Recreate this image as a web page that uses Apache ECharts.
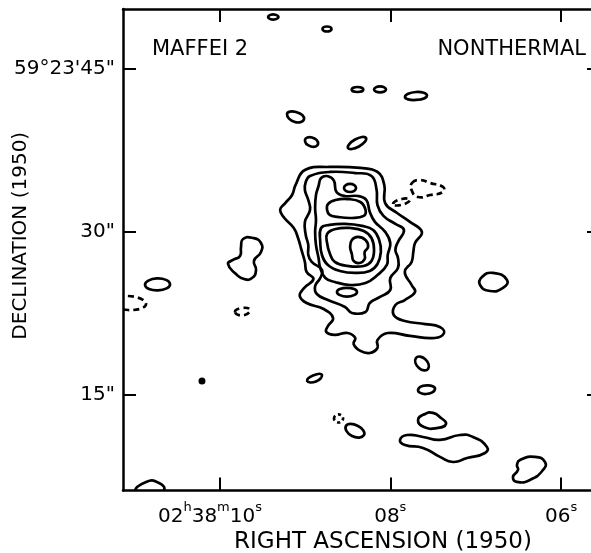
<!DOCTYPE html>
<html>
<head>
<meta charset="utf-8">
<script src="https://cdn.jsdelivr.net/npm/echarts@6/dist/echarts.min.js"></script>
<style>
  html, body { margin: 0; padding: 0; background: #fff; }
  #chart { width: 591px; height: 553px; }
</style>
</head>
<body>
<div id="chart"></div>
<script>
// Positions are [RA seconds past 02h38m, Dec arcsec past 59°23'] (1950.0)
const raTicks = [10, 8, 6];
const decTicks = [15, 30, 45];
const raRange = [5.544, 11.13];
const decRange = [6.21, 50.47];

// Nested contours of the main nonthermal emission, lowest level first
const coreContours = [
  [[9.00,35.67],[8.71,35.95],[8.35,35.86],[8.15,35.49],[8.07,34.29],[8.06,32.63],[7.92,31.72],[7.77,30.90],[7.63,29.98],[7.71,28.96],[7.73,28.14],[7.75,27.22],[7.83,26.30],[7.75,25.10],[7.71,24.46],[7.83,23.72],[7.94,23.26],[7.96,22.34],[7.83,21.79],[7.59,21.51],[7.42,21.24],[7.37,20.69],[7.48,20.23],[7.77,20.42],[8.03,20.69],[8.15,20.05],[8.15,19.31],[8.24,18.85],[8.35,19.04],[8.43,19.68],[8.41,20.23],[8.50,20.69],[8.65,20.51],[8.75,20.79],[8.73,21.33],[8.67,22.06],[8.78,22.89],[8.98,23.44],[9.06,24.09],[9.01,24.82],[8.90,25.65],[8.98,26.30],[9.00,27.22],[9.04,28.32],[9.08,29.42],[9.13,30.34],[9.24,31.26],[9.29,32.00],[9.23,32.63],[9.15,33.37],[9.11,34.29]],
  [[8.94,35.12],[8.71,35.49],[8.41,35.39],[8.22,35.12],[8.16,33.83],[8.15,32.45],[8.08,31.45],[7.94,30.71],[7.84,30.16],[7.91,29.06],[7.94,28.32],[7.91,27.58],[7.91,26.66],[8.00,25.74],[8.00,24.64],[8.12,24.00],[8.24,23.44],[8.29,22.62],[8.45,22.53],[8.53,23.08],[8.73,23.72],[8.86,24.27],[8.88,25.01],[8.82,25.74],[8.80,26.48],[8.92,27.22],[8.96,27.86],[8.96,28.78],[8.99,29.70],[9.00,30.90],[8.94,32.00],[8.96,32.91],[9.00,33.83],[8.99,34.57]],
  [[8.84,34.20],[8.81,34.93],[8.73,35.10],[8.66,34.70],[8.63,33.65],[8.53,33.28],[8.38,33.28],[8.28,32.91],[8.24,31.82],[8.18,30.90],[8.06,29.98],[8.00,28.96],[8.03,27.86],[8.04,26.94],[8.15,26.02],[8.29,25.28],[8.47,25.10],[8.65,25.38],[8.76,25.74],[8.82,26.66],[8.84,27.58],[8.87,28.78],[8.88,29.98],[8.87,31.08],[8.88,32.17],[8.87,33.37]],
  [[8.73,32.54],[8.64,32.91],[8.50,33.00],[8.35,32.73],[8.29,32.00],[8.31,31.45],[8.45,31.26],[8.62,31.36],[8.71,31.54],[8.74,32.00]],
  [[8.81,30.34],[8.71,30.62],[8.53,30.71],[8.33,30.53],[8.20,30.16],[8.13,29.24],[8.11,28.14],[8.15,27.03],[8.24,26.39],[8.41,26.21],[8.59,26.39],[8.73,26.94],[8.80,27.86],[8.82,29.06]],
  [[8.74,29.79],[8.64,30.25],[8.47,30.34],[8.31,30.07],[8.22,29.42],[8.19,28.32],[8.22,27.31],[8.31,26.85],[8.50,26.85],[8.65,27.22],[8.71,28.04],[8.74,28.96]],
  [[8.45,29.24],[8.38,29.52],[8.29,29.24],[8.26,28.60],[8.30,28.14],[8.30,27.49],[8.36,27.12],[8.43,27.31],[8.45,27.95],[8.47,28.60]]
];

// Isolated positive contours around the field
const outlyingContours = [
  [[9.43,49.73],[9.40,49.94],[9.344,49.94],[9.31,49.73],[9.344,49.53],[9.40,49.53]],
  [[8.794,48.63],[8.741,48.86],[8.688,48.63],[8.741,48.40]],
  [[8.452,43.07],[8.384,43.30],[8.316,43.07],[8.384,42.84]],
  [[8.190,43.07],[8.120,43.35],[8.050,43.07],[8.120,42.80]],
  [[7.828,42.38],[7.699,42.84],[7.570,42.52],[7.699,42.11]],
  [[9.209,40.82],[9.104,41.00],[9.010,40.36],[9.116,40.08]],
  [[8.999,38.43],[8.917,38.66],[8.846,38.06],[8.928,37.83]],
  [[8.495,37.69],[8.412,38.47],[8.284,38.61],[8.367,37.83]],
  [[8.542,34.02],[8.471,34.39],[8.401,34.02],[8.471,33.65]],
  [[8.624,24.46],[8.507,24.83],[8.390,24.46],[8.507,24.04]],
  [[9.724,29.33],[9.607,29.42],[9.514,28.96],[9.514,28.13],[9.596,27.31],[9.572,26.48],[9.619,25.74],[9.713,25.65],[9.807,26.11],[9.900,27.03],[9.842,27.40],[9.760,27.77],[9.748,28.60]],
  [[10.872,25.10],[10.732,25.70],[10.579,25.19],[10.720,24.60]],
  [[10.989,6.08],[10.860,6.99],[10.720,6.95],[10.650,6.26],[10.814,5.62]],
  [[6.926,25.84],[6.797,26.21],[6.633,25.56],[6.680,24.83],[6.832,24.55],[6.949,25.10]],
  [[8.975,16.28],[8.905,16.78],[8.800,16.83],[8.870,16.23]],
  [[7.699,18.39],[7.593,18.30],[7.558,17.38],[7.664,17.47]],
  [[7.675,15.45],[7.570,15.87],[7.476,15.54],[7.582,15.08]],
  [[8.519,12.14],[8.378,12.14],[8.308,11.31],[8.448,11.22]],
  [[7.675,12.69],[7.593,13.25],[7.500,13.34],[7.406,12.88],[7.347,12.33],[7.441,11.96],[7.605,12.05]],
  [[7.886,10.86],[7.804,11.31],[7.617,11.13],[7.418,10.86],[7.183,11.31],[7.031,11.13],[6.868,10.21],[6.891,9.66],[7.101,9.20],[7.265,8.83],[7.418,9.30],[7.617,10.12],[7.828,10.40]],
  [[6.481,9.02],[6.305,9.30],[6.188,8.83],[6.211,8.10],[6.364,7.18],[6.516,7.00],[6.563,7.45],[6.504,8.10],[6.516,8.56]]
];

// Negative contours (dashed)
const negativeContours = [
  [[7.746,34.48],[7.652,34.75],[7.535,34.48],[7.383,34.11],[7.383,33.65],[7.535,33.37],[7.675,33.19],[7.746,33.74]],
  [[7.968,32.55],[7.863,33.01],[7.769,32.91],[7.875,32.45]],
  [[11.282,23.54],[11.071,24.09],[10.860,23.35],[11.071,22.80]],
  [[9.818,22.62],[9.736,22.99],[9.643,22.80],[9.724,22.30]]
];
const faintNegative = [
  [[8.659,12.83],[8.606,13.20],[8.553,12.83],[8.606,12.46]]
];

// Unresolved peak marked as a dot
const peakSpots = [[10.205, 16.28]];

const FONT = '"DejaVu Sans", sans-serif';
const INK = '#000';

function contourSeries(list, smooth, dash) {
  return {
    type: 'custom',
    coordinateSystem: 'cartesian2d',
    clip: true,
    silent: true,
    animation: false,
    z: 5,
    data: list.map(c => c[0]),
    renderItem: (params, api) => ({
      type: 'polygon',
      shape: { points: list[params.dataIndex].map(p => api.coord(p)), smooth: smooth },
      style: { fill: 'none', stroke: INK, lineWidth: 2.7, lineDash: dash }
    })
  };
}

const frameLine = { show: true, onZero: false, lineStyle: { color: INK, width: 2.5 } };
const tickStyle = { color: INK, width: 2 };

const chart = echarts.init(document.getElementById('chart'), null, { renderer: 'canvas' });
chart.setOption({
  animation: false,
  backgroundColor: '#fff',
  title: [
    { text: 'MAFFEI 2', left: 152, top: 39, padding: 0,
      textStyle: { fontFamily: FONT, fontSize: 21, fontWeight: 'normal', color: INK } },
    { text: 'NONTHERMAL', right: 5, top: 39, padding: 0,
      textStyle: { fontFamily: FONT, fontSize: 21, fontWeight: 'normal', color: INK } }
  ],
  grid: { left: 123, top: 9, width: 477, height: 481.5, containLabel: false, outerBoundsMode: 'none' },
  xAxis: [
    {
      type: 'value', position: 'bottom', inverse: true,
      min: raRange[0], max: raRange[1],
      axisLine: frameLine,
      axisTick: { show: true, inside: true, length: 13, customValues: raTicks, lineStyle: tickStyle },
      splitLine: { show: false },
      axisLabel: {
        customValues: raTicks, margin: 6,
        formatter: v => v === 10
          ? '{n|02}{s|h}{n|38}{s|m}{n|10}{s|s}{gap| }'
          : '{n|0' + v + '}{s|s}',
        rich: {
          n: { fontFamily: FONT, fontSize: 20, color: INK, lineHeight: 30, verticalAlign: 'bottom' },
          s: { fontFamily: FONT, fontSize: 13, color: INK, lineHeight: 14, verticalAlign: 'top', padding: [5, 0, 0, 0] },
          gap: { width: 19, fontSize: 10 }
        }
      },
      name: 'RIGHT ASCENSION (1950)', nameLocation: 'middle', nameGap: 40, nameMoveOverlap: false,
      nameTextStyle: { fontFamily: FONT, fontSize: 23, color: INK, padding: [0, 0, 0, 43] }
    },
    {
      type: 'value', position: 'top', inverse: true,
      min: raRange[0], max: raRange[1],
      axisLine: frameLine,
      axisTick: { show: true, inside: true, length: 13, customValues: raTicks, lineStyle: tickStyle },
      axisLabel: { show: false },
      splitLine: { show: false }
    }
  ],
  yAxis: [
    {
      type: 'value', position: 'left',
      min: decRange[0], max: decRange[1],
      axisLine: frameLine,
      axisTick: { show: true, inside: true, length: 13, customValues: decTicks, lineStyle: tickStyle },
      splitLine: { show: false },
      axisLabel: {
        customValues: decTicks, margin: 8,
        fontFamily: FONT, fontSize: 20, color: INK,
        formatter: v => v === 45 ? '59°23\'45"' : v + '"'
      },
      name: 'DECLINATION (1950)', nameLocation: 'middle', nameGap: 92, nameRotate: 90, nameMoveOverlap: false,
      nameTextStyle: { fontFamily: FONT, fontSize: 20, color: INK, padding: [0, 0, 0, 28] }
    },
    {
      type: 'value', position: 'right',
      min: decRange[0], max: decRange[1],
      axisLine: frameLine,
      axisTick: { show: true, inside: true, length: 13, customValues: decTicks, lineStyle: tickStyle },
      axisLabel: { show: false },
      splitLine: { show: false }
    }
  ],
  series: [
    contourSeries(coreContours, 0.45, null),
    contourSeries(outlyingContours, 0.55, null),
    contourSeries(negativeContours, 0.55, [6, 4]),
    contourSeries(faintNegative, 0.55, [3, 3]),
    {
      type: 'scatter', silent: true, z: 6,
      data: peakSpots, symbol: 'circle', symbolSize: 7,
      itemStyle: { color: INK, opacity: 1 }
    }
  ]
});
</script>
</body>
</html>
